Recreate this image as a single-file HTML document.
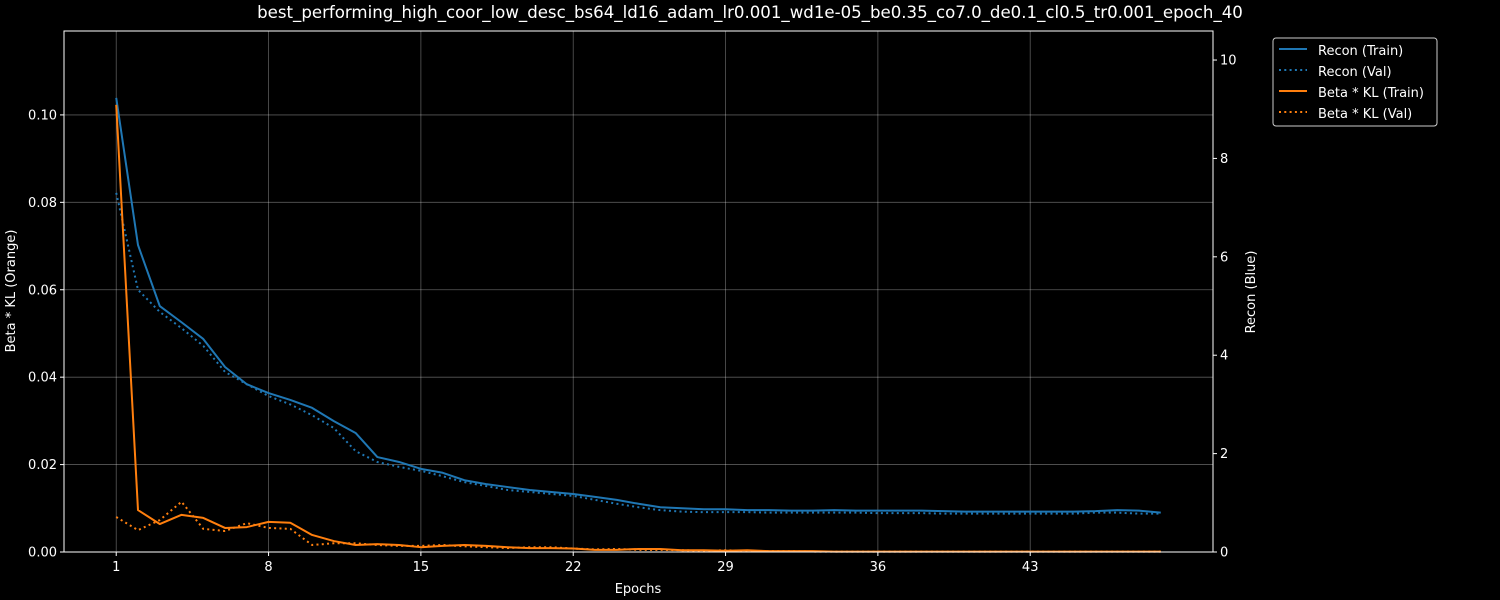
<!DOCTYPE html>
<html><head><meta charset="utf-8"><style>
html,body{margin:0;padding:0;background:#000;width:1500px;height:600px;overflow:hidden}
svg{display:block;position:absolute;left:0;top:0}
svg text{font-family:"DejaVu Sans","Liberation Sans",sans-serif;fill:#fff}
</style></head><body>
<svg id="c" width="1500" height="600" xmlns="http://www.w3.org/2000/svg">
<rect width="1500" height="600" fill="#000"/>
</svg>
<script>
const epochs = Array.from({length:49},(_,i)=>i+1);
const reconTrain = [9.23,6.24,5.0,4.67,4.33,3.76,3.41,3.23,3.09,2.93,2.66,2.42,1.93,1.83,1.69,1.61,1.46,1.38,1.32,1.26,1.22,1.18,1.12,1.06,0.98,0.91,0.89,0.87,0.87,0.85,0.85,0.84,0.84,0.85,0.84,0.84,0.84,0.84,0.83,0.82,0.82,0.82,0.82,0.82,0.82,0.83,0.85,0.84,0.80];
const reconVal = [7.3,5.33,4.88,4.55,4.19,3.66,3.41,3.17,3.0,2.78,2.52,2.05,1.83,1.73,1.65,1.54,1.42,1.34,1.26,1.22,1.18,1.14,1.06,0.98,0.91,0.85,0.82,0.81,0.81,0.81,0.80,0.80,0.80,0.80,0.80,0.79,0.79,0.79,0.78,0.78,0.78,0.78,0.78,0.78,0.78,0.80,0.80,0.78,0.78];
const klTrain = [0.1023,0.0096,0.0064,0.0085,0.0078,0.0055,0.0057,0.0069,0.0067,0.0039,0.0025,0.0016,0.0018,0.0016,0.0011,0.0014,0.0016,0.0014,0.0011,0.0009,0.0009,0.0008,0.0005,0.0005,0.0007,0.0007,0.0004,0.0004,0.0003,0.0004,0.0002,0.0002,0.0002,0.0001,0.0001,0.0001,0.0001,0.0001,0.0001,0.0001,0.0001,0.0001,0.0001,0.0001,0.0001,0.0001,0.0001,0.0001,0.0001];
const klVal = [0.008,0.005,0.0073,0.0115,0.0053,0.0048,0.0066,0.0055,0.0053,0.0016,0.002,0.002,0.0016,0.0014,0.0014,0.0016,0.0013,0.0011,0.0009,0.0011,0.0011,0.0008,0.0006,0.0007,0.0005,0.0005,0.0004,0.0003,0.0004,0.0002,0.0002,0.0002,0.0001,0.0001,0.0001,0.0001,0.0001,0.0001,0.0001,0.0001,0.0001,0.0001,0.0001,0.0001,0.0001,0.0001,0.0001,0.0001,0.0001];
const xTicks = [1,8,15,22,29,36,43];
const leftTicks = [0,0.02,0.04,0.06,0.08,0.10];
const leftLabels = ["0.00","0.02","0.04","0.06","0.08","0.10"];
const rightTicks = [0,2,4,6,8,10];

const L=64,R=1213,T=31,B=552;
const xMin=-1.4,xMax=51.4;
const x=v=>L+(v-xMin)/(xMax-xMin)*(R-L);
const yl=v=>B-v/0.1192*(B-T);
const yr=v=>B-v/10.59*(B-T);
const svg=document.getElementById('c');
const NS='http://www.w3.org/2000/svg';
function mk(tag,attrs,parent){const e=document.createElementNS(NS,tag);for(const k in attrs)e.setAttribute(k,attrs[k]);(parent||svg).appendChild(e);return e;}

const grid=mk('g',{});


xTicks.forEach(t=>{mk('line',{x1:x(t),x2:x(t),y1:T,y2:B,stroke:'#fff','stroke-opacity':0.35,'stroke-width':0.8},grid);});
leftTicks.forEach(t=>{mk('line',{x1:L,x2:R,y1:yl(t),y2:yl(t),stroke:'#fff','stroke-opacity':0.35,'stroke-width':0.8},grid);});

function line(arr,yf,color,dash,name){
  const p=mk('polyline',{points:arr.map((v,i)=>x(epochs[i])+','+yf(v)).join(' '),fill:'none',stroke:color,'stroke-width':2,'stroke-dasharray':dash||'', 'stroke-linejoin':'round'});
  
  
}
line(reconTrain,yr,'#1f77b4','', 'recon-train-line');
line(reconVal,yr,'#1f77b4','2,3.3','recon-val-line');
line(klTrain,yl,'#ff7f0e','', 'kl-train-line');
line(klVal,yl,'#ff7f0e','2,3.3','kl-val-line');

const frame=mk('rect',{x:L,y:T,width:R-L,height:B-T,fill:'none',stroke:'#fff','stroke-width':1});



xTicks.forEach(t=>{mk('line',{x1:x(t),x2:x(t),y1:B,y2:B+4,stroke:'#fff'});
  const tx=mk('text',{x:x(t),y:B+19,'font-size':13,'text-anchor':'middle'});tx.textContent=t;
  });
leftTicks.forEach((t,i)=>{mk('line',{x1:L-4,x2:L,y1:yl(t),y2:yl(t),stroke:'#fff'});
  const tx=mk('text',{x:L-7,y:yl(t)+4.5,'font-size':13,'text-anchor':'end'});tx.textContent=leftLabels[i];
  });
rightTicks.forEach(t=>{mk('line',{x1:R,x2:R+4,y1:yr(t),y2:yr(t),stroke:'#fff'});
  const tx=mk('text',{x:R+7,y:yr(t)+4.5,'font-size':13,'text-anchor':'start'});tx.textContent=t;
  });
</script>
<svg width="1500" height="600" xmlns="http://www.w3.org/2000/svg">
<text x="750" y="18" font-size="16.6" text-anchor="middle">best_performing_high_coor_low_desc_bs64_ld16_adam_lr0.001_wd1e-05_be0.35_co7.0_de0.1_cl0.5_tr0.001_epoch_40</text>
<text x="638" y="593" font-size="13" text-anchor="middle">Epochs</text>
<text transform="translate(15,291) rotate(-90)" font-size="13" text-anchor="middle">Beta * KL (Orange)</text>
<text transform="translate(1255,292) rotate(-90)" font-size="13" text-anchor="middle">Recon (Blue)</text>
<g>
<rect x="1273" y="38" width="164" height="88" rx="3" fill="#000" stroke="#ccc" stroke-width="1"/>
<line x1="1279" y1="49" x2="1307" y2="49" stroke="#1f77b4" stroke-width="2"/>
<text x="1318" y="55" font-size="13">Recon (Train)</text>
<line x1="1279" y1="70" x2="1307" y2="70" stroke="#1f77b4" stroke-width="2" stroke-dasharray="2,3.3"/>
<text x="1318" y="76" font-size="13">Recon (Val)</text>
<line x1="1279" y1="91" x2="1307" y2="91" stroke="#ff7f0e" stroke-width="2"/>
<text x="1318" y="97" font-size="13">Beta * KL (Train)</text>
<line x1="1279" y1="112" x2="1307" y2="112" stroke="#ff7f0e" stroke-width="2" stroke-dasharray="2,3.3"/>
<text x="1318" y="118" font-size="13">Beta * KL (Val)</text>
</g>
</svg>
</body></html>
